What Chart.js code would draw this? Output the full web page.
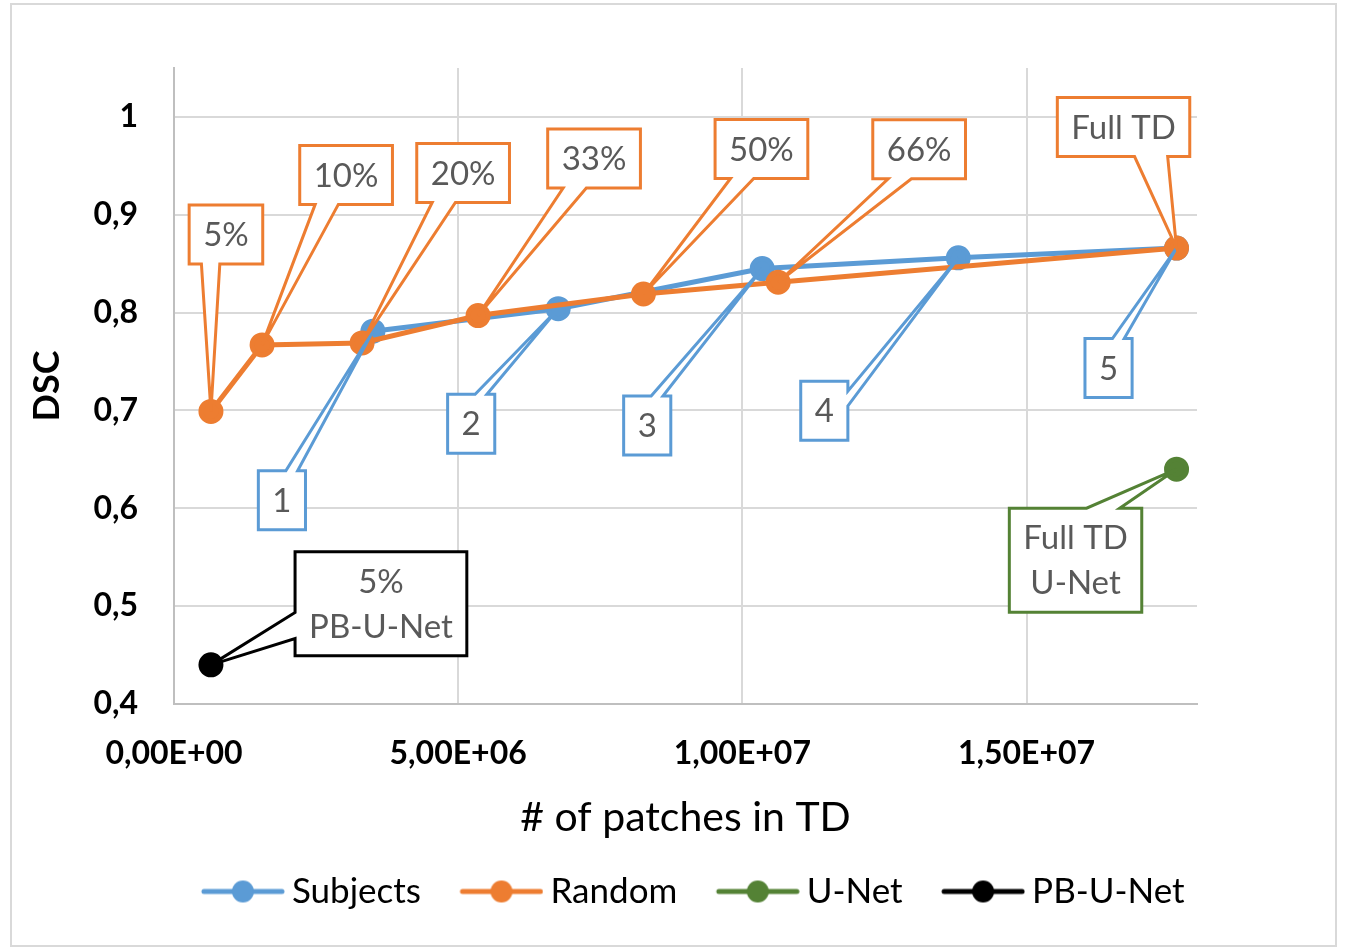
<!DOCTYPE html>
<html>
<head>
<meta charset="utf-8">
<script src="https://cdn.jsdelivr.net/npm/chart.js@4.4.0/dist/chart.umd.min.js"></script>
<style>
  html, body { margin: 0; padding: 0; background: #fff; }
  #wrap { position: relative; width: 1347px; height: 951px; }
  #frame { position: absolute; left: 10px; top: 3px; width: 1323px; height: 940px; border: 2px solid #d9d9d9; pointer-events: none; }
  canvas { position: absolute; left: 0; top: 0; }
</style>
</head>
<body>
<div id="wrap">
  <canvas id="chart" width="1347" height="951"></canvas>
  <div id="frame"></div>
</div>
<script>
// values: # of patches in TD (x) vs DSC (y)
const subjectsX = [3.50e6, 6.76e6, 1.035e7, 1.38e7, 1.764e7];
const subjectsY = [0.781, 0.804, 0.845, 0.856, 0.866];
const randomX = [6.5e5, 1.55e6, 3.31e6, 5.35e6, 8.26e6, 1.063e7, 1.764e7];
const randomY = [0.699, 0.767, 0.769, 0.797, 0.819, 0.831, 0.866];
const unetX = [1.764e7];
const unetY = [0.640];
const pbUnetX = [6.5e5];
const pbUnetY = [0.440];

// callout texts
const subjectsLabels = ['1', '2', '3', '4', '5'];
const randomLabels = ['5%', '10%', '20%', '33%', '50%', '66%', 'Full TD'];
const unetLabels = ['Full TD\nU-Net'];
const pbUnetLabels = ['5%\nPB-U-Net'];

// ticks
const xTicks = [0, 5e6, 1e7, 1.5e7];
const xTickLabels = ['0,00E+00', '5,00E+06', '1,00E+07', '1,50E+07'];
const yTicks = [0.4, 0.5, 0.6, 0.7, 0.8, 0.9, 1];
const yTickLabels = ['0,4', '0,5', '0,6', '0,7', '0,8', '0,9', '1'];

// where each callout box sits, relative to its point (px)
const subjectsCallouts = [[-91, 169], [-87, 115], [-115, 157], [-134, 153], [-68, 120]];
const randomCallouts = [[15, -177], [84, -170], [101, -170], [116, -157], [118, -145], [141, -133], [-53, -121]];
const unetCallouts = [[-101, 91]];
const pbUnetCallouts = [[170, -61]];

const BLUE = '#5b9bd5', ORANGE = '#ed7d31', GREEN = '#548235', BLACK = '#000000';
const FONT = 'Lato, "Open Sans", sans-serif';

function pts(xs, ys) {
  return xs.map((x, i) => ({ x: x, y: ys[i] }));
}

function series(label, xs, ys, color, order, texts, offsets) {
  return {
    label: label,
    data: pts(xs, ys),
    showLine: true,
    borderColor: color,
    backgroundColor: color,
    pointBackgroundColor: color,
    pointBorderColor: color,
    borderWidth: 5,
    pointRadius: 10,
    pointHoverRadius: 10,
    tension: 0,
    order: order,
    callouts: texts,
    calloutOffsets: offsets
  };
}

// line-with-marker image for the legend (blank on the left so items get spaced out)
function legendIcon(color) {
  const c = document.createElement('canvas');
  c.width = 123; c.height = 26;
  const g = c.getContext('2d');
  g.strokeStyle = color; g.lineWidth = 5; g.lineCap = 'round';
  g.beginPath(); g.moveTo(42, 13); g.lineTo(120, 13); g.stroke();
  g.fillStyle = color;
  g.beginPath(); g.arc(81, 13, 11, 0, Math.PI * 2); g.fill();
  return c;
}

function drawCallout(ctx, px, py, cx, cy, w, h, color) {
  const l = cx - w / 2, t = cy - h / 2, r = cx + w / 2, b = cy + h / 2;
  const dx = px - cx, dy = py - cy;
  let edge;
  if (Math.abs(dx) / w > Math.abs(dy) / h) edge = dx < 0 ? 'left' : 'right';
  else edge = dy < 0 ? 'top' : 'bottom';
  const hx = dx < 0 ? [l + w / 6, l + 5 * w / 12] : [l + 7 * w / 12, l + 5 * w / 6];
  const vy = dy < 0 ? [t + h / 6, t + 5 * h / 12] : [t + 7 * h / 12, t + 5 * h / 6];
  ctx.beginPath();
  ctx.moveTo(l, t);
  if (edge === 'top') { ctx.lineTo(hx[0], t); ctx.lineTo(px, py); ctx.lineTo(hx[1], t); }
  ctx.lineTo(r, t);
  if (edge === 'right') { ctx.lineTo(r, vy[0]); ctx.lineTo(px, py); ctx.lineTo(r, vy[1]); }
  ctx.lineTo(r, b);
  if (edge === 'bottom') { ctx.lineTo(hx[1], b); ctx.lineTo(px, py); ctx.lineTo(hx[0], b); }
  ctx.lineTo(l, b);
  if (edge === 'left') { ctx.lineTo(l, vy[1]); ctx.lineTo(px, py); ctx.lineTo(l, vy[0]); }
  ctx.closePath();
  ctx.fillStyle = '#ffffff';
  ctx.fill();
  ctx.lineWidth = 3;
  ctx.strokeStyle = color;
  ctx.lineJoin = 'miter';
  ctx.stroke();
}

const calloutPlugin = {
  id: 'callouts',
  afterDraw(chart) {
    const ctx = chart.ctx;
    ctx.save();
    ctx.font = '33px ' + FONT;
    ctx.textAlign = 'center';
    ctx.textBaseline = 'middle';
    chart.data.datasets.forEach((ds, i) => {
      if (!ds.callouts) return;
      const meta = chart.getDatasetMeta(i);
      meta.data.forEach((pt, j) => {
        const lines = ds.callouts[j].split('\n');
        const off = ds.calloutOffsets[j];
        const tw = Math.max(...lines.map(s => ctx.measureText(s).width));
        const w = tw + 28, h = lines.length * 45 + 14;
        const cx = pt.x + off[0], cy = pt.y + off[1];
        drawCallout(ctx, pt.x, pt.y, cx, cy, w, h, ds.borderColor);
        ctx.fillStyle = '#595959';
        lines.forEach((s, k) => {
          ctx.fillText(s, cx, cy - (lines.length - 1) * 22.5 + k * 45 + 1);
        });
      });
    });
    ctx.restore();
  }
};

const ctx = document.getElementById('chart').getContext('2d');
new Chart(ctx, {
  type: 'scatter',
  data: {
    datasets: [
      series('Subjects', subjectsX, subjectsY, BLUE, 1, subjectsLabels, subjectsCallouts),
      series('Random', randomX, randomY, ORANGE, 0, randomLabels, randomCallouts),
      series('U-Net', unetX, unetY, GREEN, 0, unetLabels, unetCallouts),
      series('PB-U-Net', pbUnetX, pbUnetY, BLACK, 0, pbUnetLabels, pbUnetCallouts)
    ]
  },
  options: {
    responsive: false,
    animation: false,
    events: [],
    layout: { padding: { left: 10, right: 0, top: 68, bottom: 32 } },
    plugins: {
      tooltip: { enabled: false },
      legend: {
        position: 'bottom',
        labels: {
          usePointStyle: true,
          pointStyleWidth: 102,
          boxHeight: 26,
          padding: 10,
          color: '#000',
          font: { family: FONT, size: 35 },
          sort: (a, b) => a.datasetIndex - b.datasetIndex,
          generateLabels(chart) {
            const items = Chart.defaults.plugins.legend.labels.generateLabels(chart);
            items.forEach(it => { it.pointStyle = legendIcon(chart.data.datasets[it.datasetIndex].borderColor); });
            return items;
          }
        }
      }
    },
    scales: {
      x: {
        type: 'linear',
        min: 0,
        max: 1.8e7,
        afterFit(scale) { scale.height = 160; },
        afterBuildTicks(scale) { scale.ticks = xTicks.map(v => ({ value: v })); },
        ticks: {
          padding: 30,
          color: '#000',
          font: { family: FONT, size: 32, weight: 'bold' },
          maxRotation: 0,
          callback: (v) => xTickLabels[xTicks.indexOf(v)]
        },
        grid: { color: '#d9d9d9', lineWidth: 2, drawTicks: false },
        border: { color: '#bfbfbf', width: 2 },
        title: {
          display: true,
          text: '# of patches in TD',
          color: '#000',
          font: { family: FONT, size: 41 },
          padding: { top: 0, bottom: 22 }
        }
      },
      y: {
        type: 'linear',
        min: 0.4,
        max: 1.05,
        afterFit(scale) { scale.width = 164; },
        afterBuildTicks(scale) { scale.ticks = yTicks.map(v => ({ value: v })); },
        ticks: {
          padding: 36,
          color: '#000',
          font: { family: FONT, size: 32, weight: 'bold' },
          callback: (v) => yTickLabels[yTicks.indexOf(v)]
        },
        grid: { color: '#d9d9d9', lineWidth: 2, drawTicks: false },
        border: { color: '#bfbfbf', width: 2 },
        title: {
          display: true,
          text: 'DSC',
          color: '#000',
          font: { family: FONT, size: 36, weight: 'bold' },
          padding: { top: 16, bottom: 0 }
        }
      },
      // empty right-hand strip so the plot ends where the original one does
      spacer: {
        type: 'linear',
        position: 'right',
        min: 0,
        max: 1,
        afterFit(scale) { scale.width = 150; },
        ticks: { display: false },
        grid: { display: false },
        border: { display: false }
      }
    }
  },
  plugins: [calloutPlugin]
});
</script>
</body>
</html>
